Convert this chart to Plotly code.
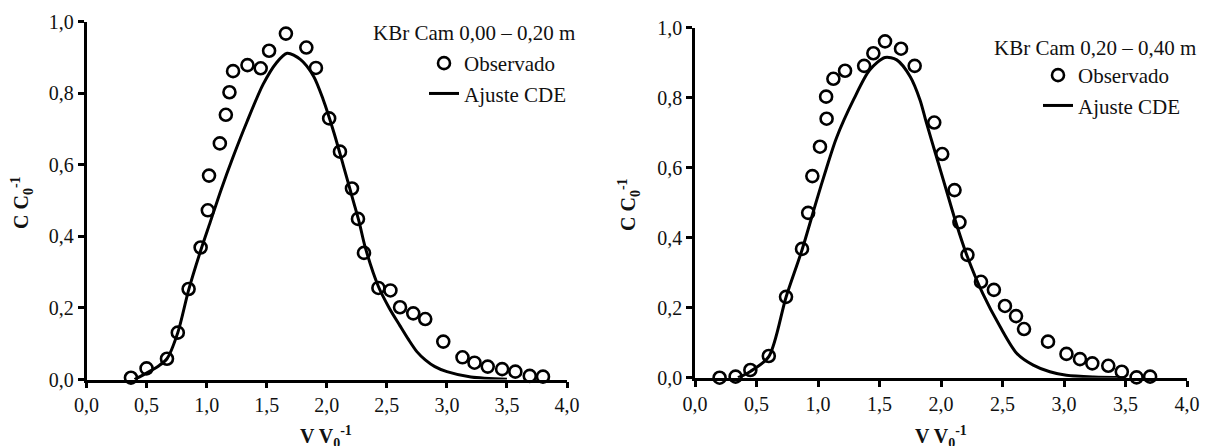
import plotly.graph_objects as go

# ---------------- data ----------------
left_obs_x = [0.37, 0.50, 0.67, 0.76, 0.85, 0.95, 1.01, 1.02, 1.11, 1.16, 1.19, 1.22, 1.34, 1.45,
              1.52, 1.66, 1.83, 1.91, 2.02, 2.11, 2.21, 2.26, 2.31, 2.43, 2.53, 2.61, 2.72, 2.82,
              2.97, 3.13, 3.23, 3.34, 3.46, 3.57, 3.69, 3.80]
left_obs_y = [0.005, 0.031, 0.058, 0.131, 0.253, 0.369, 0.473, 0.570, 0.660, 0.740, 0.803, 0.862,
              0.879, 0.870, 0.919, 0.967, 0.928, 0.871, 0.730, 0.637, 0.534, 0.449, 0.354, 0.256,
              0.249, 0.202, 0.185, 0.169, 0.106, 0.062, 0.047, 0.036, 0.029, 0.022, 0.010, 0.008]

left_fit_x = [0.40, 0.51, 0.60, 0.67, 0.76, 0.85, 0.95, 1.03, 1.12, 1.22, 1.335, 1.47, 1.58, 1.67,
              1.78, 1.89, 1.97, 2.06, 2.14, 2.22, 2.27, 2.32, 2.43, 2.52, 2.61, 2.68, 2.75, 2.82,
              2.90, 3.00, 3.20, 3.50]
left_fit_y = [0.0, 0.02, 0.038, 0.058, 0.131, 0.25, 0.36, 0.44, 0.53, 0.622, 0.72, 0.825, 0.885,
              0.912, 0.895, 0.848, 0.783, 0.69, 0.596, 0.50, 0.44, 0.37, 0.26, 0.20, 0.15, 0.112,
              0.078, 0.055, 0.036, 0.022, 0.007, 0.001]

right_obs_x = [0.20, 0.33, 0.45, 0.60, 0.74, 0.87, 0.92, 0.954, 1.016, 1.07, 1.066, 1.125, 1.22,
               1.375, 1.45, 1.545, 1.675, 1.786, 1.945, 2.01, 2.11, 2.15, 2.215, 2.325, 2.43,
               2.52, 2.61, 2.675, 2.87, 3.02, 3.13, 3.23, 3.36, 3.47, 3.59, 3.70]
right_obs_y = [0.0, 0.003, 0.022, 0.062, 0.231, 0.368, 0.471, 0.576, 0.66, 0.74, 0.803, 0.854,
               0.877, 0.891, 0.927, 0.961, 0.94, 0.891, 0.729, 0.639, 0.536, 0.444, 0.351, 0.274,
               0.251, 0.205, 0.176, 0.139, 0.103, 0.068, 0.053, 0.041, 0.034, 0.017, 0.001, 0.003]

right_fit_x = [0.35, 0.45, 0.60, 0.74, 0.87, 0.99, 1.07, 1.15, 1.29, 1.42, 1.545, 1.64, 1.75, 1.83,
               1.88, 1.96, 2.04, 2.12, 2.21, 2.34, 2.48, 2.615, 2.75, 2.885, 3.02, 3.24, 3.50]
right_fit_y = [0.0, 0.018, 0.06, 0.23, 0.365, 0.508, 0.60, 0.685, 0.795, 0.879, 0.915, 0.908, 0.86,
               0.793, 0.73, 0.635, 0.54, 0.445, 0.35, 0.24, 0.146, 0.07, 0.036, 0.017, 0.007,
               0.002, 0.0]

panel_titles = ["KBr Cam 0,00 \u2013 0,20 m", "KBr Cam 0,20 \u2013 0,40 m"]
obs_name = "Observado"
fit_name = "Ajuste CDE"
x_title = "<b>V V<sub>0</sub><sup>-1</sup></b>"
y_title = "<b>C C<sub>0</sub><sup>-1</sup></b>"

# ---------------- figure ----------------
W, H = 1210, 446
FONT = "Times New Roman, Liberation Serif, serif"
TXT = "#111"
fig = go.Figure()

panels = [
    dict(ox=left_obs_x, oy=left_obs_y, fx=left_fit_x, fy=left_fit_y, xa="x", ya="y", lg="legend"),
    dict(ox=right_obs_x, oy=right_obs_y, fx=right_fit_x, fy=right_fit_y, xa="x2", ya="y2", lg="legend2"),
]
for p in panels:
    fig.add_trace(go.Scatter(
        x=p["ox"], y=p["oy"], mode="markers", name=obs_name, xaxis=p["xa"], yaxis=p["ya"],
        legend=p["lg"], cliponaxis=False,
        marker=dict(symbol="circle-open", size=12, color="black", line=dict(width=2.6, color="black")),
    ))
    fig.add_trace(go.Scatter(
        x=p["fx"], y=p["fy"], mode="lines", name=fit_name, xaxis=p["xa"], yaxis=p["ya"],
        legend=p["lg"], line=dict(color="black", width=3, shape="spline", smoothing=0.8),
    ))

def px_x(v):
    return v / W

def px_y(v):
    return (H - v) / H

axis_common = dict(showline=True, linecolor="black", linewidth=2.6, ticks="outside", ticklen=6,
                   tickwidth=2.6, tickcolor="black", showgrid=False, zeroline=False,
                   automargin=False, tickformat=".1f",
                   tickfont=dict(family=FONT, size=20, color=TXT))

fig.update_layout(
    width=W, height=H, margin=dict(l=0, r=0, t=0, b=0),
    paper_bgcolor="white", plot_bgcolor="white", separators=",.",
    font=dict(family=FONT, size=20, color=TXT),
    xaxis=dict(domain=[px_x(86.5), px_x(567)], range=[0, 4], dtick=0.5, anchor="y", **axis_common),
    yaxis=dict(domain=[px_y(379.5), px_y(21.8)], range=[0, 1], dtick=0.2, anchor="x", **axis_common),
    xaxis2=dict(domain=[px_x(695), px_x(1187)], range=[0, 4], dtick=0.5, anchor="y2", **axis_common),
    yaxis2=dict(domain=[px_y(377.7), px_y(27.7)], range=[0, 1], dtick=0.2, anchor="x2", **axis_common),
    legend=dict(x=px_x(424), y=px_y(43), xanchor="left", yanchor="top", bgcolor="rgba(0,0,0,0)",
                font=dict(family=FONT, size=21, color=TXT)),
    legend2=dict(x=px_x(1038), y=px_y(55), xanchor="left", yanchor="top", bgcolor="rgba(0,0,0,0)",
                 font=dict(family=FONT, size=21, color=TXT)),
    showlegend=True,
)

annotations = [
    dict(text=panel_titles[0], x=px_x(577), y=px_y(33), xanchor="right", yanchor="middle", size=21),
    dict(text=panel_titles[1], x=px_x(1198), y=px_y(48), xanchor="right", yanchor="middle", size=21),
    dict(text=x_title, x=px_x(326), y=px_y(437), xanchor="center", yanchor="middle", size=20),
    dict(text=x_title, x=px_x(941), y=px_y(437), xanchor="center", yanchor="middle", size=20),
    dict(text=y_title, x=px_x(22), y=px_y(203), textangle=-90, xanchor="center", yanchor="middle", size=20),
    dict(text=y_title, x=px_x(629), y=px_y(205), textangle=-90, xanchor="center", yanchor="middle", size=20),
]
for a in annotations:
    sz = a.pop("size")
    fig.add_annotation(xref="paper", yref="paper", showarrow=False,
                       font=dict(family=FONT, size=sz, color=TXT), **a)

fig.write_html(
    "out.html",
    config={"displayModeBar": False},
    post_script="document.body.style.margin='0';document.body.style.padding='0';"
                "document.body.style.overflow='hidden';",
)
